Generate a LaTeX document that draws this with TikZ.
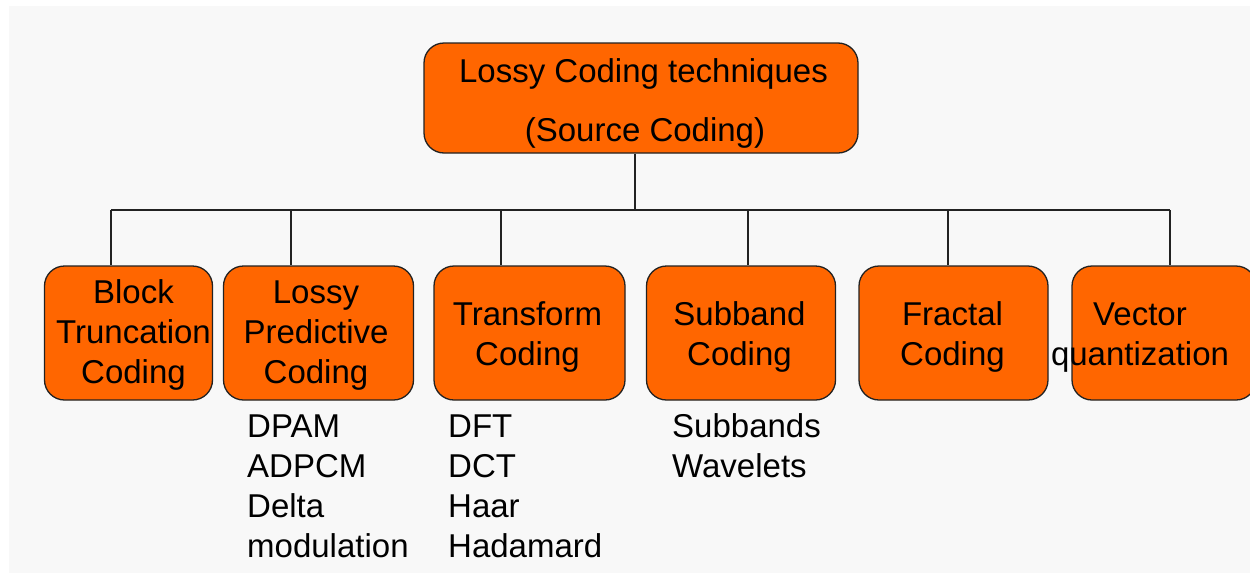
\documentclass[tikz,border=0pt]{standalone}
\usepackage{fontspec}
\setmainfont{Liberation Sans}
\definecolor{boxfill}{HTML}{FF6600}
\definecolor{paper}{HTML}{F8F8F8}
\definecolor{ink}{HTML}{222222}
\begin{document}
\begin{tikzpicture}[x=1pt,y=-1pt,
  box/.style={draw=ink, line width=1.3pt, fill=boxfill, rounded corners=20pt, inner sep=0pt},
  lbl/.style={font=\fontsize{33}{40}\selectfont, align=center, anchor=base, inner sep=0pt, text=black},
  lst/.style={font=\fontsize{33}{40}\selectfont, align=left, anchor=base west, inner sep=0pt, text=black},
  wire/.style={draw=ink, line width=1.3pt}]
  % page and paper
  \useasboundingbox (0,0) rectangle (1250,576);
  \clip (0,0) rectangle (1250,576);
  \fill[white] (0,0) rectangle (1250,576);
  \fill[paper] (9,6) rectangle (1250,573);

  % root box
  \node[box, minimum width=434pt, minimum height=110pt] (root) at (641,98) {};
  \node[lbl] (rootA) at (643.5,82) {Lossy Coding techniques};
  \node[lbl] (rootB) at (645,141) {(Source Coding)};

  % child boxes
  \node[box, minimum width=168pt, minimum height=134pt] (btc) at (128.5,333) {};
  \node[box, minimum width=190pt, minimum height=134pt] (lpc) at (318.5,333) {};
  \node[box, minimum width=191pt, minimum height=134pt] (tc)  at (529.5,333) {};
  \node[box, minimum width=189pt, minimum height=134pt] (sbc) at (741,333) {};
  \node[box, minimum width=189pt, minimum height=134pt] (fc)  at (953.5,333) {};
  \node[box, minimum width=184pt, minimum height=134pt] (vq)  at (1164,333) {};

  % box labels (anchored at the baseline of the last line)
  \node[lbl] (btcT) at (133.5,383) {Block\\Truncation\\Coding};
  \node[lbl] (lpcT) at (316,383) {Lossy\\Predictive\\Coding};
  \node[lbl] (tcT)  at (527.5,365) {Transform\\Coding};
  \node[lbl] (sbcT) at (739.5,365) {Subband\\Coding};
  \node[lbl] (fcT)  at (952.5,365) {Fractal\\Coding};
  \node[lbl] (vqT)  at (1140,365) {Vector\\quantization};

  % lists of methods
  \node[lst] (lpcL) at (247,557) {DPAM\\ADPCM\\Delta\\modulation};
  \node[lst] (tcL)  at (448,557) {DFT\\DCT\\Haar\\Hadamard};
  \node[lst] (sbcL) at (672,477) {Subbands\\Wavelets};

  % bus coordinates
  \coordinate (trunk) at (635,210);
  \coordinate (b1) at (111,210);
  \coordinate (b2) at (291,210);
  \coordinate (b3) at (501,210);
  \coordinate (b4) at (748,210);
  \coordinate (b5) at (948,210);
  \coordinate (b6) at (1170,210);

  % connectors
  \draw[wire] (trunk |- root.south) -- (trunk);
  \draw[wire] (b1) -- (b6);
  \draw[wire] (b1) -- (b1 |- btc.north);
  \draw[wire] (b2) -- (b2 |- lpc.north);
  \draw[wire] (b3) -- (b3 |- tc.north);
  \draw[wire] (b4) -- (b4 |- sbc.north);
  \draw[wire] (b5) -- (b5 |- fc.north);
  \draw[wire] (b6) -- (b6 |- vq.north);
\end{tikzpicture}
\end{document}
